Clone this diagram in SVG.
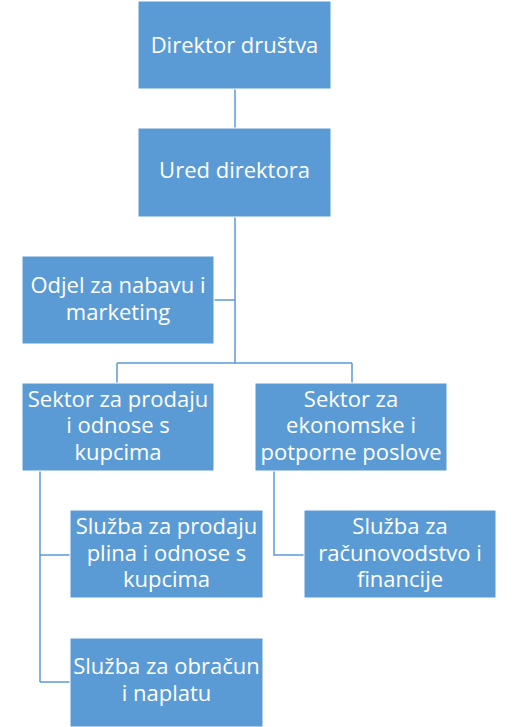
<svg xmlns="http://www.w3.org/2000/svg" width="518" height="727" viewBox="0 0 518 727">
<style>
.box{fill:#5B9BD5;stroke:#FFFFFF;stroke-width:1}
.t{font-family:"Open Sans","Liberation Sans",sans-serif;font-size:22px;fill:#FFFFFF;text-anchor:middle}
.c{fill:none;stroke:#5B9BD5;stroke-width:1.5}
</style>
<rect width="518" height="727" fill="#FFFFFF"/>
<g id="connectors">
<path class="c" d="M235,89V128M235,217V363M214,300H235M117,363H352M117,363V383M352,363V383M40,471V682M40,555H70M40,682H70M274,471V555H304"/>
</g>
<g id="n1"><rect class="box" x="138" y="1" width="193" height="88"/><text class="t" x="234.5" y="53">Direktor društva</text></g>
<g id="n2"><rect class="box" x="138" y="128" width="193" height="89"/><text class="t" x="234.5" y="178">Ured direktora</text></g>
<g id="n3"><rect class="box" x="22" y="256" width="192" height="88"/><text class="t" x="118" y="293">Odjel za nabavu i</text><text class="t" x="118" y="320">marketing</text></g>
<g id="n4"><rect class="box" x="22" y="383" width="192" height="88"/><text class="t" x="118" y="407">Sektor za prodaju</text><text class="t" x="118" y="433">i odnose s</text><text class="t" x="118" y="460">kupcima</text></g>
<g id="n5"><rect class="box" x="255" y="383" width="192" height="88"/><text class="t" x="351" y="407">Sektor za</text><text class="t" x="351" y="433">ekonomske i</text><text class="t" x="351" y="460">potporne poslove</text></g>
<g id="n6"><rect class="box" x="70" y="510" width="193" height="88"/><text class="t" x="166.5" y="534">Služba za prodaju</text><text class="t" x="166.5" y="561">plina i odnose s</text><text class="t" x="166.5" y="587">kupcima</text></g>
<g id="n7"><rect class="box" x="304" y="510" width="192" height="88"/><text class="t" x="400" y="534">Služba za</text><text class="t" x="400" y="561">računovodstvo i</text><text class="t" x="400" y="587">financije</text></g>
<g id="n8"><rect class="box" x="70" y="638" width="193" height="89"/><text class="t" x="166.5" y="674">Služba za obračun</text><text class="t" x="166.5" y="701">i naplatu</text></g>
</svg>
